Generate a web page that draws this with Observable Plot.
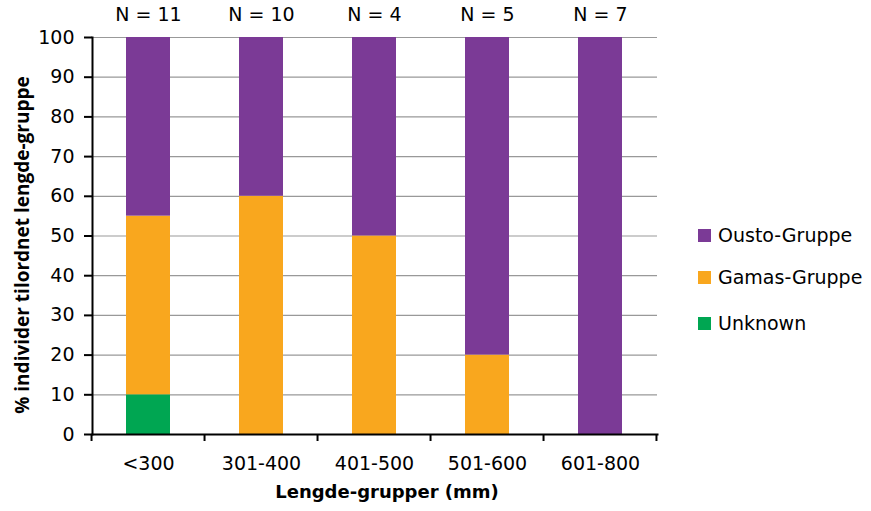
<!DOCTYPE html>
<html><head><meta charset="utf-8">
<script src="https://cdn.jsdelivr.net/npm/d3@7"></script>
<script src="https://cdn.jsdelivr.net/npm/@observablehq/plot@0.6"></script>
<style>
body{margin:0;background:#fff;font-family:"DejaVu Sans",sans-serif;}
#wrap{position:relative;width:871px;height:511px;}
#legend{position:absolute;left:698px;top:0;}
.li{position:absolute;left:0;display:flex;align-items:center;white-space:nowrap;font-size:19px;color:#000;}
.sw{width:13px;height:13px;margin-right:7px;}
</style></head>
<body><div id="wrap"><div id="legend"></div></div>
<script>
const categories = ["<300","301-400","401-500","501-600","601-800"];
const nLabels = ["N = 11","N = 10","N = 4","N = 5","N = 7"];
const unknown = [10,0,0,0,0];
const gamas = [45,60,50,20,0];
const ousto = [45,40,50,80,100];
const seriesNames = ["Ousto-Gruppe","Gamas-Gruppe","Unknown"];
const seriesColors = ["#7B3A96","#F9A71E","#00A652"];
const yTicks = [0,10,20,30,40,50,60,70,80,90,100];
const yLabel = "% individer tilordnet lengde-gruppe";
const xLabel = "Lengde-grupper (mm)";

const data = [];
categories.forEach((c,i)=>{
  data.push({cat:c, series:"Unknown", value:unknown[i]});
  data.push({cat:c, series:"Gamas-Gruppe", value:gamas[i]});
  data.push({cat:c, series:"Ousto-Gruppe", value:ousto[i]});
});
const nData = categories.map((c,i)=>({cat:c, label:nLabels[i]}));

const plot = Plot.plot({
  width:871, height:511,
  marginLeft:92, marginRight:214, marginTop:37, marginBottom:77,
  style:{fontFamily:"DejaVu Sans, sans-serif", fontSize:"19px", color:"#000", background:"#fff", overflow:"visible"},
  x:{domain:categories, paddingInner:0.61, paddingOuter:0.305, label:null},
  y:{domain:[0,100], label:null},
  color:{domain:seriesNames, range:seriesColors},
  marks:[
    Plot.ruleY(yTicks.filter(d=>d>0), {stroke:"#999", strokeWidth:1.2}),
    Plot.barY(data, {x:"cat", y:"value", fill:"series", order:["Unknown","Gamas-Gruppe","Ousto-Gruppe"]}),
    Plot.axisY({ticks:yTicks, tickSize:8, tickPadding:10, label:null, stroke:"#000", strokeWidth:2}),
    Plot.axisX({tickSize:0, tickPadding:22, label:null}),
    Plot.frame({anchor:"left", stroke:"#000", strokeWidth:2}),
    Plot.frame({anchor:"bottom", stroke:"#000", strokeWidth:2}),
    Plot.text(nData, {x:"cat", y:()=>100, text:"label", dy:-23, fontSize:19}),
    Plot.text([yLabel], {frameAnchor:"left", textAnchor:"middle", rotate:-90, dx:-70, dy:9, fontWeight:"bold", fontSize:19, fontFamily:"'Open Sans', sans-serif"}),
    Plot.text([xLabel], {frameAnchor:"bottom", dx:12, dy:63, fontWeight:"bold", fontSize:18})
  ]
});
document.getElementById("wrap").prepend(plot);

// boundary tick marks on x axis from the band scale
const xs = plot.scale("x");
const ys = plot.scale("y");
const y0 = ys.apply(0);
const svg = d3.select(plot);
const bounds = categories.map(c => xs.apply(c) - xs.step*xs.paddingInner/2);
bounds.push(xs.apply(categories[categories.length-1]) + xs.bandwidth + xs.step*xs.paddingInner/2);
svg.append("g").selectAll("line").data(bounds).join("line")
  .attr("x1",d=>d).attr("x2",d=>d).attr("y1",y0).attr("y2",y0+7)
  .attr("stroke","#000").attr("stroke-width",2);

// legend
const legendY = [235,277,323];
const lg = document.getElementById("legend");
seriesNames.forEach((s,i)=>{
  const d = document.createElement("div");
  d.className="li";
  d.style.top=(legendY[i]-12)+"px";
  d.style.height="24px";
  d.innerHTML=`<span class="sw" style="background:${seriesColors[i]}"></span><span>${s}</span>`;
  lg.appendChild(d);
});
</script></body></html>
